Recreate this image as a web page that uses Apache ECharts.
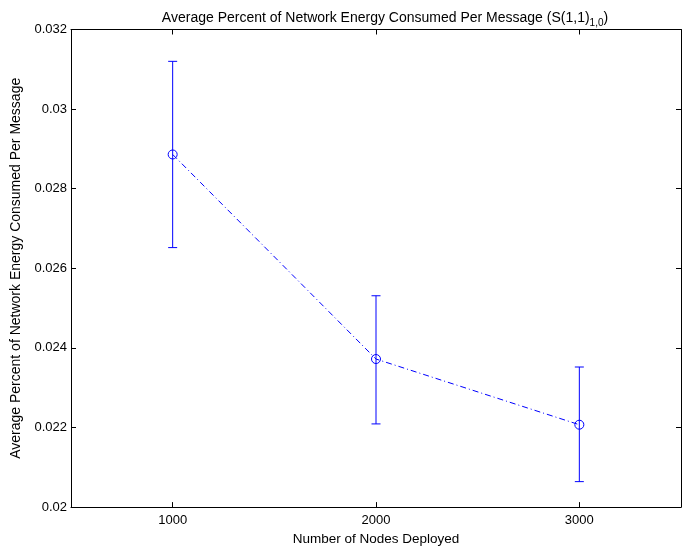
<!DOCTYPE html>
<html>
<head>
<meta charset="utf-8">
<script src="https://cdn.jsdelivr.net/npm/echarts@6/dist/echarts.min.js"></script>
<style>html,body{margin:0;padding:0;background:#fff;}#chart{width:699px;height:551px;}</style>
</head>
<body>
<div id="chart"></div>
<script>
const nodes = [1000, 2000, 3000];
const meanPct = [0.02886, 0.02372, 0.02207];
const upperPct = [0.03120, 0.02531, 0.02352];
const lowerPct = [0.02652, 0.02209, 0.02064];
const xTicks = [1000, 2000, 3000];
const xTickLabels = ['1000', '2000', '3000'];
const yTicks = [0.02, 0.022, 0.024, 0.026, 0.028, 0.03, 0.032];
const yTickLabels = ['0.02', '0.022', '0.024', '0.026', '0.028', '0.03', '0.032'];

const FONT = 'Liberation Sans, Arial, sans-serif';
const FS = 13;
const chart = echarts.init(document.getElementById('chart'));

const axisCommon = {
  axisLine: { show: true, onZero: false, lineStyle: { color: '#000', width: 1 } },
  splitLine: { show: false },
};
function pick(ticks, labels) {
  return function (v) { const i = ticks.findIndex(t => Math.abs(t - v) < 1e-9); return i >= 0 ? labels[i] : ''; };
}

chart.setOption({
  animation: false,
  backgroundColor: '#fff',
  title: {
    text: '{a|Average Percent of Network Energy Consumed Per Message (S(1,1)}{s|1,0}{a|)}',
    left: 380, top: 3, textAlign: 'center',
    textStyle: {
      rich: {
        a: { fontFamily: FONT, fontSize: 14, color: '#000', fontWeight: 'normal' },
        s: { fontFamily: FONT, fontSize: 10, color: '#000', fontWeight: 'normal', padding: [10, 0, 0, 0] }
      }
    }
  },
  grid: { left: 71, right: 18, top: 29.5, bottom: 43, containLabel: false },
  xAxis: [{
    type: 'value', min: 500, max: 3500, position: 'bottom',
    ...axisCommon,
    axisTick: { show: true, inside: true, length: 5, customValues: xTicks, lineStyle: { color: '#000' } },
    axisLabel: { show: true, customValues: xTicks, formatter: pick(xTicks, xTickLabels), color: '#000', fontFamily: FONT, fontSize: FS, margin: 7 },
    name: 'Number of Nodes Deployed', nameLocation: 'middle', nameGap: 22,
    nameTextStyle: { color: '#000', fontFamily: FONT, fontSize: 13.5 }
  }, {
    type: 'value', min: 500, max: 3500, position: 'top',
    ...axisCommon,
    axisTick: { show: true, inside: true, length: 5, customValues: xTicks, lineStyle: { color: '#000' } },
    axisLabel: { show: false }
  }],
  yAxis: [{
    type: 'value', min: 0.02, max: 0.032, position: 'left',
    ...axisCommon,
    axisTick: { show: true, inside: true, length: 5, customValues: yTicks, lineStyle: { color: '#000' } },
    axisLabel: {
      show: true, customValues: yTicks, color: '#000', fontFamily: FONT, fontSize: FS, margin: 4,
      formatter: pick(yTicks, yTickLabels)
    },
    name: 'Average Percent of Network Energy Consumed Per Message', nameLocation: 'middle', nameGap: 42,
    nameTextStyle: { color: '#000', fontFamily: FONT, fontSize: 14 }
  }, {
    type: 'value', min: 0.02, max: 0.032, position: 'right',
    ...axisCommon,
    axisTick: { show: true, inside: true, length: 5, customValues: yTicks, lineStyle: { color: '#000' } },
    axisLabel: { show: false }
  }],
  series: [{
    type: 'custom',
    xAxisIndex: 0, yAxisIndex: 0,
    data: nodes.map((x, i) => [x, lowerPct[i], upperPct[i]]),
    renderItem: function (params, api) {
      const x = api.value(0);
      const lo = api.coord([x, api.value(1)]);
      const hi = api.coord([x, api.value(2)]);
      const w = 4.5;
      const style = { stroke: '#0000ff', lineWidth: 1 };
      return {
        type: 'group',
        children: [
          { type: 'line', shape: { x1: lo[0], y1: lo[1], x2: hi[0], y2: hi[1] }, style: style },
          { type: 'line', shape: { x1: hi[0] - w, y1: hi[1], x2: hi[0] + w, y2: hi[1] }, style: style },
          { type: 'line', shape: { x1: lo[0] - w, y1: lo[1], x2: lo[0] + w, y2: lo[1] }, style: style }
        ]
      };
    },
    z: 2
  }, {
    type: 'line',
    xAxisIndex: 0, yAxisIndex: 0,
    data: nodes.map((x, i) => [x, meanPct[i]]),
    symbol: 'circle', symbolSize: 9,
    itemStyle: { color: 'rgba(0,0,0,0)', borderColor: '#0000ff', borderWidth: 1 },
    lineStyle: { color: '#0000ff', width: 1, type: [6, 3, 1, 3] },
    z: 3
  }]
});
</script>
</body>
</html>
